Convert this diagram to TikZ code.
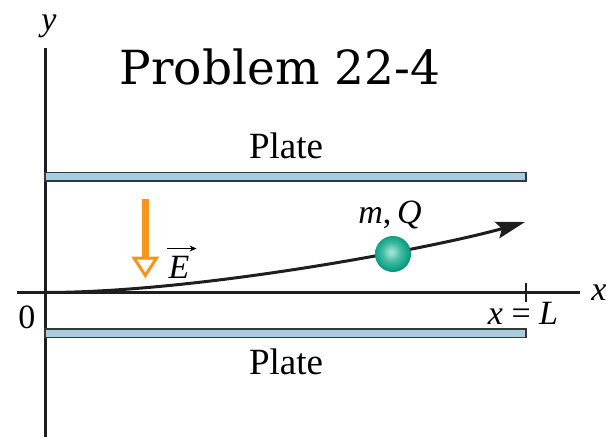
\documentclass[tikz,border=0pt]{standalone}
\usepackage{fontspec}
\setmainfont{Liberation Serif}
\newfontfamily\titlefont{DejaVu Serif}
\usetikzlibrary{arrows.meta}
\definecolor{platefill}{RGB}{168,205,224}
\definecolor{plateedge}{RGB}{55,55,55}
\definecolor{efield}{RGB}{247,148,29}
\definecolor{ballc}{RGB}{20,168,138}
\definecolor{ballhi}{RGB}{150,225,208}
\definecolor{axiscol}{RGB}{30,30,30}
\pgfdeclareradialshading{tealball}{\pgfpoint{-3bp}{3bp}}{%
  color(0bp)=(ballhi); color(3bp)=(ballhi); color(13bp)=(ballc!80!white);
  color(21bp)=(ballc); color(25bp)=(ballc!88!black); color(50bp)=(ballc!88!black)}
\begin{document}
\begin{tikzpicture}[x=1pt,y=-1pt,
  axis/.style={line width=3pt, draw=axiscol},
  plate/.style={draw=plateedge, fill=platefill, line width=1.5pt},
  lbl/.style={inner sep=0pt, anchor=base, font=\fontsize{34}{40}\selectfont},
  ilbl/.style={lbl, font=\fontsize{34}{40}\selectfont\itshape},
  traj/.style={line width=3pt, draw=axiscol, -{Stealth[length=29pt,width=17pt,inset=5pt]}},
]
\useasboundingbox (0,0) rectangle (606,437);
% axes
\coordinate (yb) at (45,437); \coordinate (yt) at (45,48);
\coordinate (xl) at (17,292.5); \coordinate (xr) at (580,292.5);
\draw[axis] (yb) -- (yt);
\draw[axis] (xl) -- (xr);
% plates
\draw[plate] (45,172.5) rectangle (526,181);
\draw[plate] (45,329) rectangle (526,337.5);
% tick at x = L
\coordinate (tickt) at (526,283); \coordinate (tickb) at (526,302);
\draw[line width=1.5pt, draw=axiscol] (tickt) -- (tickb);
% labels
\node[inner sep=0pt, anchor=base, font=\titlefont\fontsize{47}{56}\selectfont] (title) at (280,84) {Problem 22-4};
\node[lbl, font=\fontsize{37}{44}\selectfont] (ptop) at (286,158) {Plate};
\node[lbl, font=\fontsize{37}{44}\selectfont] (pbot) at (286,374) {Plate};
\node[ilbl] (ylab) at (49,30) {y};
\node[ilbl] (xlab) at (599,300) {x};
\node[lbl] (zero) at (27,328) {0};
\node[lbl] (xeqL) at (523,324) {\textit{x} = \textit{L}};
\node[lbl, font=\fontsize{34}{40}\selectfont] (mQ) at (390,223) {\textit{m},\,\textit{Q}};
% trajectory
\coordinate (s) at (45,292.5);
\coordinate (e) at (525,222);
\draw[traj] (s) .. controls (204.7,292.5) and (444.2,245.3) .. (e);
% ball
\node[circle, minimum size=36pt, inner sep=0pt, shading=tealball] (ball) at (393,254) {};
% E field arrow
\coordinate (et) at (145.3,199);
\coordinate (eb) at (145.3,257);
\draw[efield, line width=7pt] (et) -- (eb);
\draw[efield, line width=3pt, fill=white, line join=miter] (134,258) -- (156.6,258) -- (145.3,275.5) -- cycle;
\node[ilbl] (E) at (179,278) {E};
\draw[line width=1.2pt, -{Stealth[length=7pt,width=6pt]}] ([xshift=-1pt,yshift=7pt]E.north west) -- ([xshift=7pt,yshift=7pt]E.north east);
\end{tikzpicture}
\end{document}
